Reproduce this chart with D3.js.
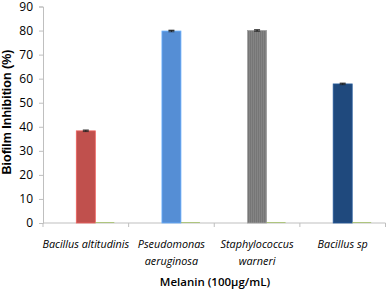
<!DOCTYPE html>
<html><head><meta charset="utf-8">
<script src="https://cdn.jsdelivr.net/npm/d3@7"></script>
<style>body{margin:0;background:#fff}svg{display:block}</style>
</head><body>
<svg id="c" width="387" height="293"></svg>
<script>
const categories = [["Bacillus altitudinis"], ["Pseudomonas", "aeruginosa"], ["Staphylococcus", "warneri"], ["Bacillus sp"]];
const melanin = [38.3, 79.8, 80.0, 57.8];
const melaninErr = [0.3, 0.3, 0.3, 0.3];
const control = [0.3, 0.3, 0.3, 0.3];
const barColors = ["#c0504d", "#558ed5", "#808080", "#1f497d"];
const yTicks = [0, 10, 20, 30, 40, 50, 60, 70, 80, 90];
const series = ["blank", "melanin", "control"];

const svg = d3.select("#c");
const m = {l: 43, r: 1.5, t: 6.5, b: 70};
const W = 387, H = 293;
const x = d3.scaleBand().domain(d3.range(categories.length)).range([m.l, W - m.r]);
const y = d3.scaleLinear().domain([0, 90]).range([H - m.b, m.t]);
const bw = 19;
const inner = d3.scaleBand().domain(series).range([0, bw * 3]);
const off = (x.bandwidth() - bw * 3) / 2;

const defs = svg.append("defs");
const pat = defs.append("pattern").attr("id", "stripe").attr("width", 2).attr("height", 4).attr("patternUnits", "userSpaceOnUse");
pat.append("rect").attr("width", 2).attr("height", 4).attr("fill", "#848484");
pat.append("rect").attr("width", 1).attr("height", 4).attr("fill", "#767676");

// axes
const fontTick = "'Open Sans', sans-serif";
const yAxis = svg.append("g").attr("transform", `translate(${m.l},0)`)
  .call(d3.axisLeft(y).tickValues(yTicks).tickSize(4).tickPadding(6));
yAxis.select(".domain").attr("stroke", "#bfbfbf");
yAxis.selectAll(".tick line").attr("stroke", "#bfbfbf");
yAxis.selectAll("text").attr("font-family", fontTick).attr("font-size", 12).attr("fill", "#000");

const xAxisG = svg.append("g").attr("transform", `translate(0,${y(0)})`);
xAxisG.append("line").attr("x1", m.l).attr("x2", W - m.r).attr("stroke", "#bfbfbf");
xAxisG.selectAll("line.t").data(d3.range(categories.length + 1)).join("line").attr("class", "t")
  .attr("x1", i => i < categories.length ? x(i) : x(i - 1) + x.bandwidth())
  .attr("x2", i => i < categories.length ? x(i) : x(i - 1) + x.bandwidth())
  .attr("y1", 0).attr("y2", 4).attr("stroke", "#bfbfbf");

// bars
const g = svg.append("g");
g.selectAll("rect.mel").data(melanin).join("rect").attr("class", "mel")
  .attr("x", (d, i) => x(i) + off + inner("melanin"))
  .attr("width", inner.bandwidth())
  .attr("y", d => y(d)).attr("height", d => y(0) - y(d))
  .attr("fill", (d, i) => i === 2 ? "url(#stripe)" : barColors[i])
  .attr("stroke", (d, i) => d3.color(barColors[i]).brighter(0.6))
  .attr("stroke-width", 0.8);
g.selectAll("rect.ctl").data(control).join("rect").attr("class", "ctl")
  .attr("x", (d, i) => x(i) + off + inner("control"))
  .attr("width", inner.bandwidth())
  .attr("y", d => y(d)).attr("height", d => y(0) - y(d))
  .attr("fill", "#9bbb59");
// error bars
g.selectAll("g.err").data(melanin).join("g").attr("class", "err").each(function(d, i) {
  const cx = x(i) + off + inner("melanin") + inner.bandwidth() / 2;
  const s = d3.select(this);
  s.append("line").attr("x1", cx).attr("x2", cx).attr("y1", y(d - melaninErr[i])).attr("y2", y(d + melaninErr[i])).attr("stroke", "#000");
  s.append("line").attr("x1", cx - 3).attr("x2", cx + 3).attr("y1", y(d + melaninErr[i])).attr("y2", y(d + melaninErr[i])).attr("stroke", "#222").attr("stroke-width", 1.2);
  s.append("line").attr("x1", cx - 3).attr("x2", cx + 3).attr("y1", y(d - melaninErr[i])).attr("y2", y(d - melaninErr[i])).attr("stroke", "#222").attr("stroke-width", 0.8);
});

// category labels
svg.selectAll("text.cat").data(categories).join("text").attr("class", "cat")
  .attr("x", (d, i) => x(i) + x.bandwidth() / 2)
  .attr("text-anchor", "middle").attr("font-family", fontTick)
  .attr("font-style", "italic").attr("font-size", 10.8).attr("fill", "#000")
  .each(function(d) {
    d3.select(this).selectAll("tspan").data(d).join("tspan")
      .attr("x", d3.select(this).attr("x"))
      .attr("y", (t, j) => 248 + j * 17).text(t => t);
  });

// axis titles
svg.append("text").attr("x", 215).attr("y", 286).attr("text-anchor", "middle")
  .attr("font-family", fontTick).attr("font-weight", 600).attr("font-size", 11.5).text("Melanin (100µg/mL)");
svg.append("text").attr("transform", `translate(11,112) rotate(-90)`).attr("text-anchor", "middle")
  .attr("font-family", "'Liberation Sans', Arial, sans-serif").attr("font-weight", "bold").attr("font-size", 12.5).text("Biofilm Inhibition (%)");
</script>
</body></html>
